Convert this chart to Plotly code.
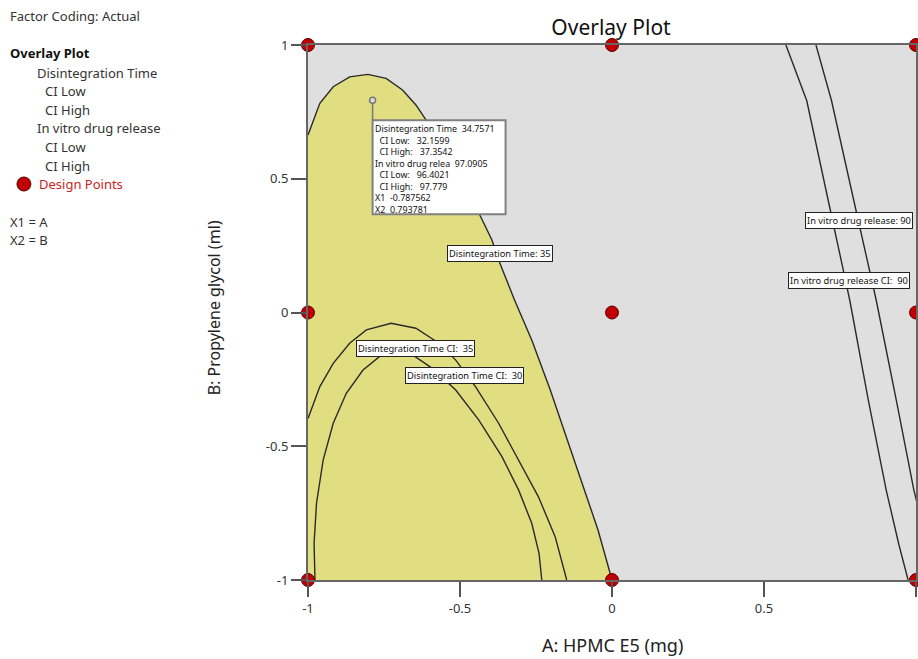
import plotly.graph_objects as go

# ---------------- data ----------------
design_x = [-1, -1, -1, 0, 0, 0, 1, 1, 1]
design_y = [-1, 0, 1, -1, 0, 1, -1, 0, 1]

# Disintegration Time = 35 contour (boundary of feasible region)
dt35_x = [-1.0, -0.980, -0.961, -0.917, -0.863, -0.803, -0.743, -0.689, -0.645, -0.612,
          -0.560, -0.500, -0.432, -0.395, -0.373, -0.320, -0.264, -0.203, -0.155, -0.100, -0.046, 0.0]
dt35_y = [0.664, 0.728, 0.782, 0.844, 0.881, 0.890, 0.875, 0.832, 0.776, 0.720,
          0.625, 0.505, 0.358, 0.271, 0.196, 0.045, -0.103, -0.290, -0.452, -0.630, -0.813, -1.0]

# Disintegration Time CI: 35 contour
ci35_x = [-1.0, -0.961, -0.917, -0.863, -0.808, -0.727, -0.645, -0.569, -0.514,
          -0.449, -0.373, -0.307, -0.242, -0.187, -0.149]
ci35_y = [-0.396, -0.277, -0.190, -0.115, -0.065, -0.040, -0.059, -0.115, -0.178,
          -0.277, -0.414, -0.551, -0.689, -0.838, -1.0]

# Disintegration Time CI: 30 contour
ci30_x = [-0.977, -0.980, -0.972, -0.950, -0.917, -0.874, -0.819, -0.765, -0.710,
          -0.656, -0.591, -0.514, -0.438, -0.362, -0.307, -0.264, -0.240, -0.231]
ci30_y = [-1.0, -0.863, -0.713, -0.551, -0.414, -0.302, -0.215, -0.165, -0.146,
          -0.159, -0.209, -0.290, -0.402, -0.539, -0.664, -0.788, -0.900, -1.0]

# In vitro drug release = 90 and CI = 90 contours
ivr90_x = [0.572, 0.6405, 0.711, 0.782, 0.843, 0.902, 0.944, 0.974]
ivr90_y = [1.0, 0.7925, 0.4206, 0.0467, -0.327, -0.664, -0.869, -1.0]
ivrci_x = [0.671, 0.722, 0.795, 0.869, 0.935, 0.993, 1.033]
ivrci_y = [1.0, 0.7925, 0.4206, 0.0467, -0.327, -0.664, -0.85]

x_ticks = [-1, -0.5, 0, 0.5, 1]
y_ticks = [-1, -0.5, 0, 0.5, 1]

flag_x, flag_y = -0.787562, 0.793781
flag_lines = ["Disintegration Time  34.7571", "  CI Low:   32.1599", "  CI High:   37.3542",
              "In vitro drug relea  97.0905", "  CI Low:   96.4021", "  CI High:   97.779",
              "X1  -0.787562", "X2  0.793781"]

contour_labels = [
    ("Disintegration Time: 35", -0.369, 0.219),
    ("Disintegration Time CI:  35", -0.647, -0.133),
    ("Disintegration Time CI:  30", -0.484, -0.234),
    ("In vitro drug release: 90", 0.814, 0.344),
    ("In vitro drug release CI:  90", 0.779, 0.118),
]

side_text = [
    ("Factor Coding: Actual", 10, 16, "#333333"),
    ("<b>Overlay Plot</b>", 10, 53, "#111111"),
    ("Disintegration Time", 37, 73, "#333333"),
    ("CI Low", 45, 91, "#333333"),
    ("CI High", 45, 110, "#333333"),
    ("In vitro drug release", 37, 128, "#333333"),
    ("CI Low", 45, 147, "#333333"),
    ("CI High", 45, 166, "#333333"),
    ("Design Points", 39, 184, "#CC2222"),
    ("X1 = A", 10, 222, "#333333"),
    ("X2 = B", 10, 240, "#333333"),
]

FONT = "Noto Sans"
W, H = 918, 659
L, R, T, B = 308, 0, 45, 79
PW, PH = W - L - R, H - T - B


def px2paper(px, py):
    return (px - L) / PW, (H - B - py) / PH


def nb(s):
    return s.replace(" ", "&nbsp;")


fig = go.Figure()

# feasible (yellow) region
fill_x = [-1.0] + dt35_x + [-1.0]
fill_y = [-1.0] + dt35_y + [-1.0]
fig.add_trace(go.Scatter(x=fill_x, y=fill_y, mode="lines", fill="toself",
                         fillcolor="#E0DE80", line=dict(width=0), hoverinfo="skip"))

line_style = dict(color="#2a2a2a", width=1.4)
for xs, ys in [(dt35_x, dt35_y), (ci35_x, ci35_y), (ci30_x, ci30_y),
               (ivr90_x, ivr90_y), (ivrci_x, ivrci_y)]:
    fig.add_trace(go.Scatter(x=xs, y=ys, mode="lines", line=line_style, hoverinfo="skip"))

# design points
fig.add_trace(go.Scatter(x=design_x, y=design_y, mode="markers", cliponaxis=False,
                         marker=dict(size=13, color="#C00000", line=dict(color="#5a0000", width=1))))

# flag point
fig.add_trace(go.Scatter(x=[flag_x], y=[flag_y], mode="markers",
                         marker=dict(size=6, color="#dddddd", line=dict(color="#777777", width=1.5))))

shapes = []
shapes.append(dict(type="line", xref="x", yref="y", xsizemode="pixel", ysizemode="pixel",
                   xanchor=flag_x, yanchor=flag_y, x0=0, x1=0, y0=-3, y1=-20,
                   line=dict(color="#777777", width=1.5), layer="above"))
shapes.append(dict(type="rect", xref="x", yref="y", xsizemode="pixel", ysizemode="pixel",
                   xanchor=flag_x, yanchor=flag_y, x0=0, x1=133, y0=-20, y1=-114,
                   fillcolor="white", line=dict(color="#808080", width=2), layer="above"))

annotations = []
annotations.append(dict(x=flag_x, y=flag_y, xref="x", yref="y",
                        text="<br>".join(nb(t) for t in flag_lines),
                        showarrow=False, xanchor="left", yanchor="top", align="left",
                        xshift=1, yshift=-21, borderpad=0,
                        font=dict(family=FONT, size=8.9, color="#111111")))

for t, x, y in contour_labels:
    annotations.append(dict(x=x, y=y, xref="x", yref="y", text=nb(t), showarrow=False,
                            bgcolor="white", bordercolor="#222222", borderwidth=1, borderpad=1,
                            font=dict(family=FONT, size=9.3, color="#111111")))

for t, px, py, col in side_text:
    xp, yp = px2paper(px - 3, py)
    annotations.append(dict(x=xp, y=yp, xref="paper", yref="paper", text=t, showarrow=False,
                            xanchor="left", yanchor="middle",
                            font=dict(family=FONT, size=13, color=col)))

# legend dot for design points
cx0, cy0 = px2paper(16, 177)
cx1, cy1 = px2paper(30, 191)
shapes.append(dict(type="circle", xref="paper", yref="paper", x0=cx0, x1=cx1, y0=cy1, y1=cy0,
                   fillcolor="#C00000", line=dict(color="#5a0000", width=1)))

# axis titles
ax_x, ax_y = px2paper(613, 645)
annotations.append(dict(x=ax_x, y=ax_y, xref="paper", yref="paper", text="A: HPMC E5 (mg)",
                        showarrow=False, xanchor="center", yanchor="middle",
                        font=dict(family=FONT, size=18, color="#222222")))
ay_x, ay_y = px2paper(214, 308)
annotations.append(dict(x=ay_x, y=ay_y, xref="paper", yref="paper", text="B: Propylene glycol (ml)",
                        showarrow=False, xanchor="center", yanchor="middle", textangle=-90,
                        font=dict(family=FONT, size=16, color="#222222")))

fig.update_layout(
    width=W, height=H,
    margin=dict(l=L, r=R, t=T, b=B),
    paper_bgcolor="white", plot_bgcolor="#DFDFDF",
    showlegend=False,
    title=dict(text="Overlay Plot", x=px2paper(612, 0)[0], xref="paper", xanchor="center",
               y=1 - 28 / H, yanchor="middle", font=dict(family=FONT, size=21, color="#111111")),
    shapes=shapes, annotations=annotations,
    xaxis=dict(range=[-1, 1], tickvals=x_ticks, ticktext=[str(v) for v in x_ticks],
               showgrid=False, zeroline=False, ticks="outside", ticklen=15, tickwidth=1.5,
               tickcolor="#555555", showline=True, linecolor="#666666", linewidth=2, mirror=True,
               tickfont=dict(family=FONT, size=13, color="#333333")),
    yaxis=dict(range=[-1, 1], tickvals=y_ticks, ticktext=[str(v) for v in y_ticks],
               showgrid=False, zeroline=False, ticks="outside", ticklen=15, tickwidth=1.5,
               tickcolor="#555555", showline=True, linecolor="#666666", linewidth=2, mirror=True,
               tickfont=dict(family=FONT, size=13, color="#333333")),
)

fig.write_html("out.html")
